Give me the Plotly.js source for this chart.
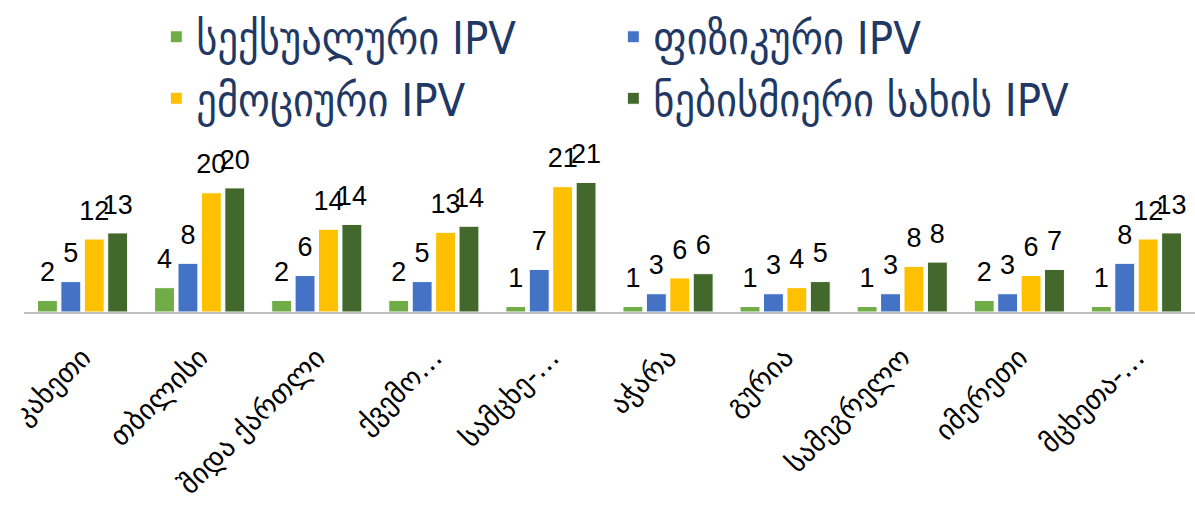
<!DOCTYPE html>
<html>
<head>
<meta charset="utf-8">
<script src="https://cdn.plot.ly/plotly-3.0.1.min.js"></script>
<style>html,body{margin:0;padding:0;background:#fff;}#chart{width:1195px;height:510px;}</style>
</head>
<body>
<div id="chart"></div>
<script>
// Categories (regions) as displayed (truncated where the original truncates)
const regions = ["კახეთი", "თბილისი", "შიდა ქართლი", "ქვემო…", "სამცხე-…", "აჭარა", "გურია", "სამეგრელო", "იმერეთი", "მცხეთა-…"];

// Series names
const seriesNames = ["სექსუალური IPV", "ფიზიკური IPV", "ემოციური IPV", "ნებისმიერი სახის IPV"];

// Values (%); labels show rounded values
const sexualIPV    = [1.9, 4.0, 1.9, 1.9, 0.9, 0.9, 0.9, 0.9, 1.9, 0.9];
const physicalIPV  = [5.0, 8.0, 6.0, 5.0, 7.0, 3.0, 3.0, 3.0, 3.0, 8.0];
const emotionalIPV = [12.0, 19.6, 13.6, 13.1, 20.6, 5.6, 4.0, 7.5, 6.0, 12.0];
const anyIPV       = [13.0, 20.4, 14.4, 14.1, 21.3, 6.3, 5.0, 8.2, 7.0, 13.0];

const colors = ["#70AD47", "#4472C4", "#FFC000", "#43682B"];
const seriesValues = [sexualIPV, physicalIPV, emotionalIPV, anyIPV];

const traces = seriesValues.map((vals, i) => ({
  type: "bar",
  name: seriesNames[i],
  x: regions,
  y: vals,
  marker: { color: colors[i], line: { color: "#ffffff", width: 1 } },
  texttemplate: '<span style="font-size:27px">%{y:.0f}</span><br> ',
  textposition: "outside",
  textfont: { family: "Liberation Sans, Arial, sans-serif", size: 11, color: "#000000" },
  constraintext: "none",
  cliponaxis: false,
  hoverinfo: "skip"
}));

const layout = {
  width: 1195,
  height: 510,
  margin: { l: 24, r: 0, t: 166, b: 198, autoexpand: false },
  paper_bgcolor: "#ffffff",
  plot_bgcolor: "#ffffff",
  barmode: "group",
  bargap: 0.2,
  bargroupgap: 0.15,
  showlegend: true,
  legend: {
    orientation: "h",
    x: 0.113,
    xanchor: "left",
    y: 2.13,
    yanchor: "top",
    entrywidth: 412,
    entrywidthmode: "pixels",
    font: { family: "DejaVu Sans Condensed, DejaVu Sans, sans-serif", size: 45, color: "#1F3864" },
    traceorder: "normal"
  },
  xaxis: {
    type: "category",
    tickangle: -45,
    showline: true,
    linecolor: "#BFBFBF",
    linewidth: 2,
    ticks: "",
    showgrid: false,
    tickfont: { family: "DejaVu Sans, sans-serif", size: 28, color: "#000000" },
    ticklabelstandoff: 16
  },
  yaxis: {
    range: [0, 24],
    showgrid: false,
    zeroline: false,
    showticklabels: false,
    ticks: "",
    showline: false
  }
};

Plotly.newPlot("chart", traces, layout, { displayModeBar: false, staticPlot: true });
</script>
</body>
</html>
